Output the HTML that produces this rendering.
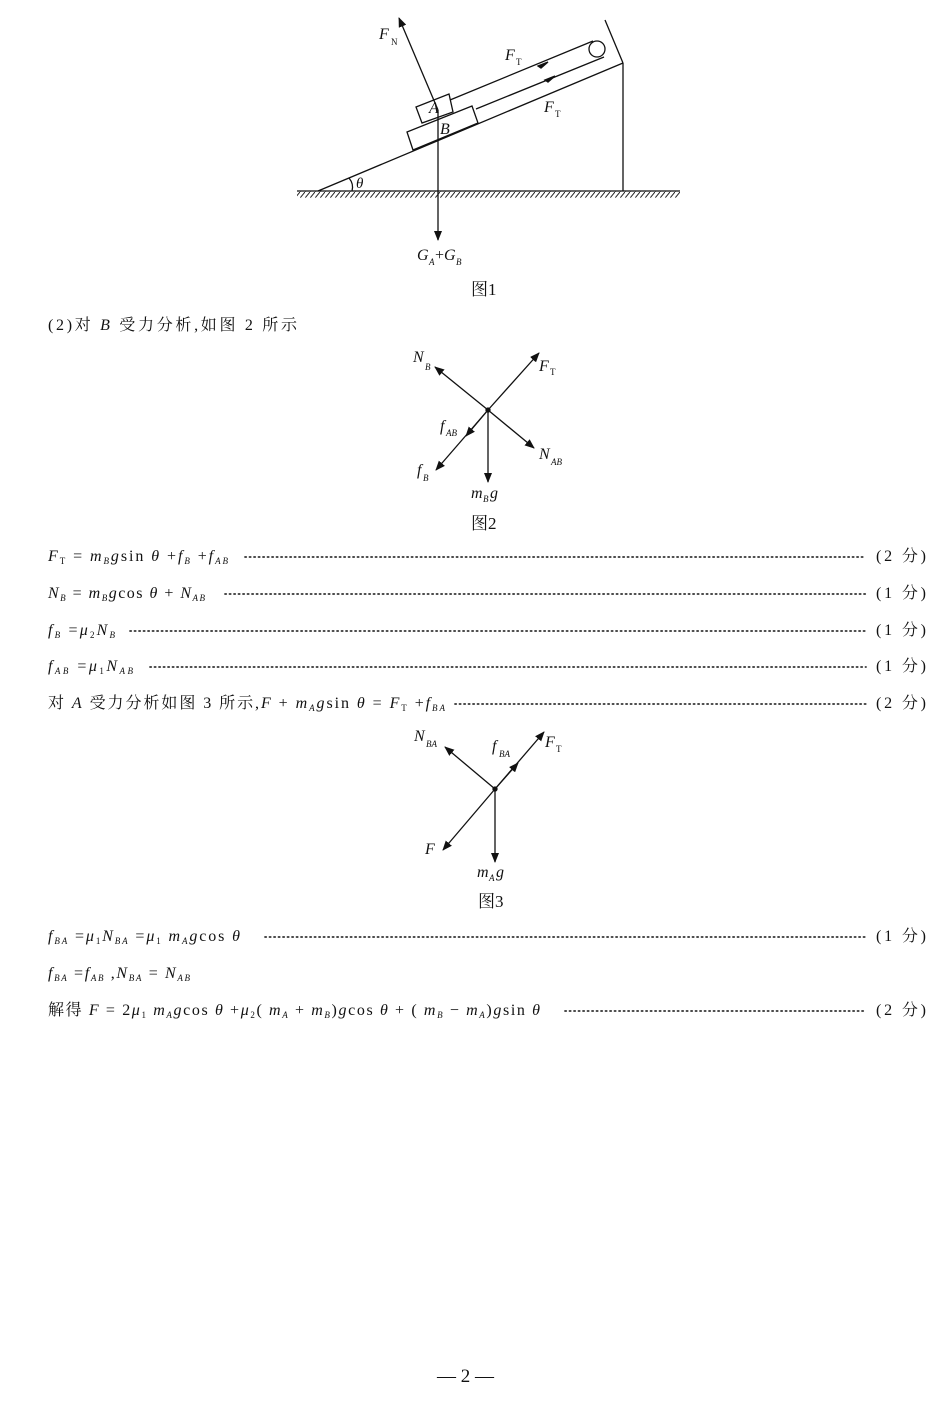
<!DOCTYPE html>
<html><head><meta charset="utf-8"><style>
html,body{margin:0;padding:0;background:#fff;}
svg{display:block;}
text{font-family:"Liberation Serif","Noto Serif CJK SC",serif;fill:#111;}
.i{font-style:italic;}
</style></head><body>
<svg width="950" height="1407" viewBox="0 0 950 1407" xmlns="http://www.w3.org/2000/svg">
<defs>
<pattern id="h" width="5" height="6" patternUnits="userSpaceOnUse"><line x1="5" y1="0" x2="0" y2="6" stroke="#222" stroke-width="1"/></pattern>
<marker id="a" markerWidth="10" markerHeight="8" refX="9" refY="4" orient="auto" markerUnits="userSpaceOnUse"><path d="M0,0 L10,4 L0,8 Z" fill="#111"/></marker>
</defs>
<g stroke="#111" stroke-width="1.3" fill="none">
<line x1="297" y1="191" x2="680" y2="191"/>
<rect x="297" y="191.7" width="383" height="6" fill="url(#h)" stroke="none"/>
<line x1="318" y1="191" x2="623" y2="63"/>
<line x1="623" y1="63" x2="623" y2="191"/>
<line x1="605" y1="20" x2="623" y2="63"/>
<circle cx="597" cy="49" r="8"/>
<polygon points="413,150 407,132 472,106 478,123" fill="#fff"/>
<polygon points="422,123 416,107 449,94 453,112" fill="#fff"/>
<line x1="450" y1="100" x2="593" y2="41"/>
<line x1="476" y1="109" x2="604" y2="57"/>
<path d="M538,66 l10,-4 l-7,6 z" fill="#111"/>
<path d="M545,80 l10,-4 l-7,6 z" fill="#111"/>
<line x1="438" y1="110" x2="399" y2="18" marker-end="url(#a)"/>
<line x1="438" y1="110" x2="438" y2="240" marker-end="url(#a)"/>
<path d="M349,178 Q354,184 352,191"/>
<line x1="488" y1="410" x2="435" y2="367" marker-end="url(#a)"/>
<line x1="488" y1="410" x2="539" y2="353" marker-end="url(#a)"/>
<line x1="488" y1="410" x2="534" y2="448" marker-end="url(#a)"/>
<line x1="488" y1="410" x2="436" y2="470" marker-end="url(#a)"/>
<line x1="488" y1="410" x2="466" y2="436" marker-end="url(#a)"/>
<line x1="488" y1="410" x2="488" y2="482" marker-end="url(#a)"/>
<circle cx="488" cy="410" r="2" fill="#111"/>
<line x1="495" y1="789" x2="445" y2="747" marker-end="url(#a)"/>
<line x1="495" y1="789" x2="544" y2="732" marker-end="url(#a)"/>
<line x1="495" y1="789" x2="518" y2="763" marker-end="url(#a)"/>
<line x1="495" y1="789" x2="443" y2="850" marker-end="url(#a)"/>
<line x1="495" y1="789" x2="495" y2="862" marker-end="url(#a)"/>
<circle cx="495" cy="789" r="2" fill="#111"/>
</g>
<text x="379" y="39" font-size="16" class="i">F</text><text x="391" y="45" font-size="9">N</text>
<text x="505" y="60" font-size="16" class="i">F</text><text x="516" y="65" font-size="9">T</text>
<text x="544" y="112" font-size="16" class="i">F</text><text x="555" y="117" font-size="9">T</text>
<text x="429" y="113" font-size="16" class="i">A</text>
<text x="440" y="134" font-size="16" class="i">B</text>
<text x="356" y="188" font-size="15" class="i">θ</text>
<text x="417" y="260" font-size="16" class="i">G</text><text x="429" y="265" font-size="9" class="i">A</text><text x="435" y="260" font-size="16">+</text><text x="444" y="260" font-size="16" class="i">G</text><text x="456" y="265" font-size="9" class="i">B</text>
<text x="471" y="295" font-size="17">图1</text>
<text x="48" y="330" font-size="16" textLength="249" lengthAdjust="spacing">(2)对 <tspan class="i">B</tspan> 受力分析,如图 2 所示</text>
<text x="413" y="362" font-size="16" class="i">N</text><text x="425" y="370" font-size="9" class="i">B</text>
<text x="539" y="371" font-size="16" class="i">F</text><text x="550" y="375" font-size="9">T</text>
<text x="440" y="431" font-size="16" class="i">f</text><text x="446" y="436" font-size="9" class="i">AB</text>
<text x="539" y="459" font-size="16" class="i">N</text><text x="551" y="465" font-size="9" class="i">AB</text>
<text x="417" y="475" font-size="16" class="i">f</text><text x="423" y="481" font-size="9" class="i">B</text>
<text x="471" y="498" font-size="16" class="i">m</text><text x="483" y="502" font-size="9" class="i">B</text><text x="490" y="498" font-size="16" class="i">g</text>
<text x="471" y="529" font-size="17">图2</text>
<g font-size="16">
<text x="48" y="561" textLength="180" lengthAdjust="spacing"><tspan class="i">F</tspan><tspan font-size="9" dy="3">T</tspan><tspan dy="-3"> = </tspan><tspan class="i">m</tspan><tspan font-size="9" dy="3" class="i">B</tspan><tspan dy="-3" class="i">g</tspan>sin <tspan class="i">θ</tspan> +<tspan class="i">f</tspan><tspan font-size="9" dy="3" class="i">B</tspan><tspan dy="-3"> +</tspan><tspan class="i">f</tspan><tspan font-size="9" dy="3" class="i">AB</tspan></text>
<text x="48" y="598" textLength="157" lengthAdjust="spacing"><tspan class="i">N</tspan><tspan font-size="9" dy="3" class="i">B</tspan><tspan dy="-3"> = </tspan><tspan class="i">m</tspan><tspan font-size="9" dy="3" class="i">B</tspan><tspan dy="-3" class="i">g</tspan>cos <tspan class="i">θ</tspan> + <tspan class="i">N</tspan><tspan font-size="9" dy="3" class="i">AB</tspan></text>
<text x="48" y="635" textLength="67" lengthAdjust="spacing"><tspan class="i">f</tspan><tspan font-size="9" dy="3" class="i">B</tspan><tspan dy="-3"> =</tspan><tspan class="i">μ</tspan><tspan font-size="9" dy="3">2</tspan><tspan dy="-3" class="i">N</tspan><tspan font-size="9" dy="3" class="i">B</tspan></text>
<text x="48" y="671" textLength="85" lengthAdjust="spacing"><tspan class="i">f</tspan><tspan font-size="9" dy="3" class="i">AB</tspan><tspan dy="-3"> =</tspan><tspan class="i">μ</tspan><tspan font-size="9" dy="3">1</tspan><tspan dy="-3" class="i">N</tspan><tspan font-size="9" dy="3" class="i">AB</tspan></text>
<text x="48" y="708" textLength="397" lengthAdjust="spacing">对 <tspan class="i">A</tspan> 受力分析如图 3 所示,<tspan class="i">F</tspan> + <tspan class="i">m</tspan><tspan font-size="9" dy="3" class="i">A</tspan><tspan dy="-3" class="i">g</tspan>sin <tspan class="i">θ</tspan> = <tspan class="i">F</tspan><tspan font-size="9" dy="3">T</tspan><tspan dy="-3"> +</tspan><tspan class="i">f</tspan><tspan font-size="9" dy="3" class="i">BA</tspan></text>
<text x="48" y="941" textLength="192" lengthAdjust="spacing"><tspan class="i">f</tspan><tspan font-size="9" dy="3" class="i">BA</tspan><tspan dy="-3"> =</tspan><tspan class="i">μ</tspan><tspan font-size="9" dy="3">1</tspan><tspan dy="-3" class="i">N</tspan><tspan font-size="9" dy="3" class="i">BA</tspan><tspan dy="-3"> =</tspan><tspan class="i">μ</tspan><tspan font-size="9" dy="3">1</tspan><tspan dy="-3" class="i"> m</tspan><tspan font-size="9" dy="3" class="i">A</tspan><tspan dy="-3" class="i">g</tspan>cos <tspan class="i">θ</tspan></text>
<text x="48" y="978" textLength="142" lengthAdjust="spacing"><tspan class="i">f</tspan><tspan font-size="9" dy="3" class="i">BA</tspan><tspan dy="-3"> =</tspan><tspan class="i">f</tspan><tspan font-size="9" dy="3" class="i">AB</tspan><tspan dy="-3"> ,</tspan><tspan class="i">N</tspan><tspan font-size="9" dy="3" class="i">BA</tspan><tspan dy="-3"> = </tspan><tspan class="i">N</tspan><tspan font-size="9" dy="3" class="i">AB</tspan></text>
<text x="48" y="1015" textLength="492" lengthAdjust="spacing">解得 <tspan class="i">F</tspan> = 2<tspan class="i">μ</tspan><tspan font-size="9" dy="3">1</tspan><tspan dy="-3" class="i"> m</tspan><tspan font-size="9" dy="3" class="i">A</tspan><tspan dy="-3" class="i">g</tspan>cos <tspan class="i">θ</tspan> +<tspan class="i">μ</tspan><tspan font-size="9" dy="3">2</tspan><tspan dy="-3">( </tspan><tspan class="i">m</tspan><tspan font-size="9" dy="3" class="i">A</tspan><tspan dy="-3"> + </tspan><tspan class="i">m</tspan><tspan font-size="9" dy="3" class="i">B</tspan><tspan dy="-3">)</tspan><tspan class="i">g</tspan>cos <tspan class="i">θ</tspan> + ( <tspan class="i">m</tspan><tspan font-size="9" dy="3" class="i">B</tspan><tspan dy="-3"> − </tspan><tspan class="i">m</tspan><tspan font-size="9" dy="3" class="i">A</tspan><tspan dy="-3">)</tspan><tspan class="i">g</tspan>sin <tspan class="i">θ</tspan></text>
<text x="876" y="561" textLength="50" lengthAdjust="spacing">(2 分)</text>
<text x="876" y="598" textLength="50" lengthAdjust="spacing">(1 分)</text>
<text x="876" y="635" textLength="50" lengthAdjust="spacing">(1 分)</text>
<text x="876" y="671" textLength="50" lengthAdjust="spacing">(1 分)</text>
<text x="876" y="708" textLength="50" lengthAdjust="spacing">(2 分)</text>
<text x="876" y="941" textLength="50" lengthAdjust="spacing">(1 分)</text>
<text x="876" y="1015" textLength="50" lengthAdjust="spacing">(2 分)</text>
</g>
<g stroke="#333" stroke-width="1.8" stroke-dasharray="1.2 3.3" stroke-linecap="round">
<line x1="245" y1="557" x2="866" y2="557"/>
<line x1="225" y1="594" x2="866" y2="594"/>
<line x1="130" y1="631" x2="866" y2="631"/>
<line x1="150" y1="667" x2="866" y2="667"/>
<line x1="455" y1="704" x2="866" y2="704"/>
<line x1="265" y1="937" x2="866" y2="937"/>
<line x1="565" y1="1011" x2="866" y2="1011"/>
</g>
<text x="414" y="741" font-size="16" class="i">N</text><text x="426" y="747" font-size="9" class="i">BA</text>
<text x="492" y="751" font-size="16" class="i">f</text><text x="499" y="757" font-size="9" class="i">BA</text>
<text x="545" y="747" font-size="16" class="i">F</text><text x="556" y="752" font-size="9">T</text>
<text x="425" y="854" font-size="16" class="i">F</text>
<text x="477" y="877" font-size="16" class="i">m</text><text x="489" y="881" font-size="9" class="i">A</text><text x="496" y="877" font-size="16" class="i">g</text>
<text x="478" y="907" font-size="17">图3</text>
<text x="437" y="1382" font-size="19">— 2 —</text>
</svg>
</body></html>
